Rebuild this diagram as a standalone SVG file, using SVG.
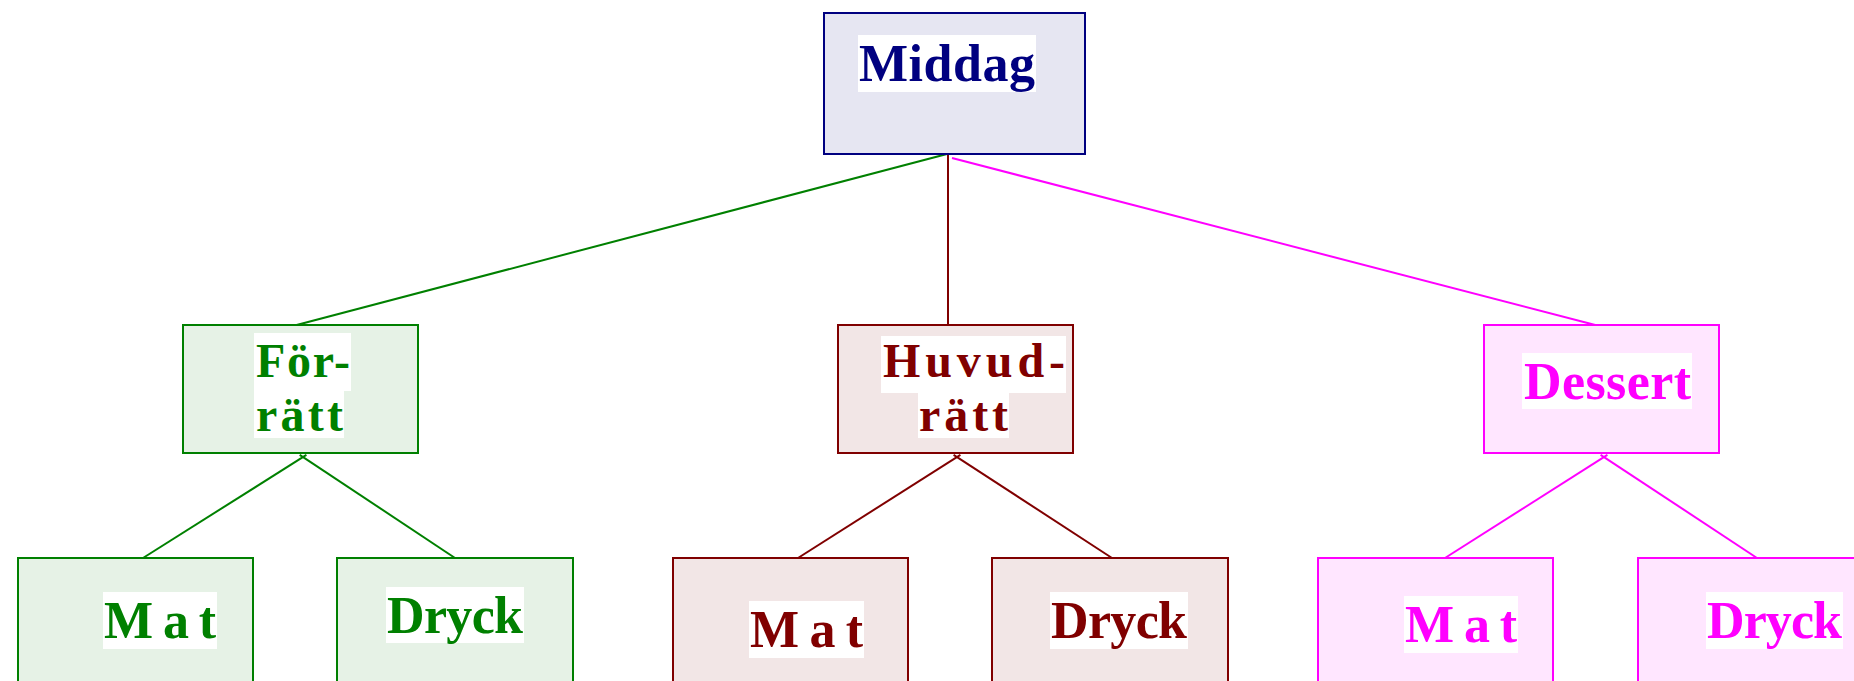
<svg xmlns="http://www.w3.org/2000/svg" width="1854" height="681" viewBox="0 0 1854 681">
<style>
text{font-family:"Liberation Serif","Times New Roman",serif;font-weight:bold;font-size:52px}
.two{font-size:48px}
.bg{fill:#ffffff}
.n{stroke-width:2}
.c{stroke-width:2;fill:none}
.navy{stroke:#000080}
.g{stroke:#008000}
.b{stroke:#800000}
.m{stroke:#ff00ff}
.tn{fill:#000080}.tg{fill:#008000}.tb{fill:#800000}.tm{fill:#ff00ff}
.fn{fill:#e6e6f2}.fg{fill:#e6f2e6}.fb{fill:#f2e6e6}.fm{fill:#ffe6ff}
</style>
<rect width="1854" height="681" fill="#ffffff"/>
<g id="connectors">
<line class="c g" x1="947" y1="154" x2="289" y2="327"/>
<line class="c b" x1="948" y1="154" x2="948" y2="325"/>
<line class="c m" x1="952" y1="158" x2="1603" y2="327"/>
<line class="c g" x1="143" y1="558" x2="306.4" y2="454.9"/>
<line class="c g" x1="455" y1="558" x2="299.7" y2="454.8"/>
<line class="c b" x1="798" y1="558" x2="960.4" y2="454.9"/>
<line class="c b" x1="1112" y1="558" x2="953.6" y2="454.8"/>
<line class="c m" x1="1445" y1="558" x2="1607.4" y2="454.9"/>
<line class="c m" x1="1757" y1="558" x2="1600.6" y2="454.8"/>
</g>
<g id="middag">
<rect class="n navy fn" x="824" y="13" width="261" height="141"/>
<rect class="bg" x="858" y="35" width="178" height="57"/>
<text class="tn" x="859" y="81" textLength="176" lengthAdjust="spacing">Middag</text>
</g>
<g id="forratt">
<rect class="n g fg" x="183" y="325" width="235" height="128"/>
<rect class="bg" x="254" y="333" width="97" height="58"/>
<rect class="bg" x="254" y="390" width="90" height="48"/>
<text class="tg two"><tspan x="256" y="377" textLength="94" lengthAdjust="spacing">För-</tspan><tspan x="256" y="431" textLength="87" lengthAdjust="spacing">rätt</tspan></text>
</g>
<g id="huvudratt">
<rect class="n b fb" x="838" y="325" width="235" height="128"/>
<rect class="bg" x="881" y="336" width="185" height="57"/>
<rect class="bg" x="918" y="392" width="91" height="46"/>
<text class="tb two"><tspan x="883" y="377" textLength="182" lengthAdjust="spacing">Huvud-</tspan><tspan x="919" y="431" textLength="89" lengthAdjust="spacing">rätt</tspan></text>
</g>
<g id="dessert">
<rect class="n m fm" x="1484" y="325" width="235" height="128"/>
<rect class="bg" x="1522" y="353" width="170" height="56"/>
<text class="tm" x="1524" y="399" textLength="167" lengthAdjust="spacing">Dessert</text>
</g>
<g id="forratt-mat">
<rect class="n g fg" x="18" y="558" width="235" height="140"/>
<rect class="bg" x="103" y="592" width="114" height="57"/>
<text class="tg" x="104" y="638" textLength="112" lengthAdjust="spacing">Mat</text>
</g>
<g id="forratt-dryck">
<rect class="n g fg" x="337" y="558" width="236" height="140"/>
<rect class="bg" x="386" y="587" width="138" height="56"/>
<text class="tg" x="387" y="633" textLength="136" lengthAdjust="spacing">Dryck</text>
</g>
<g id="huvudratt-mat">
<rect class="n b fb" x="673" y="558" width="235" height="140"/>
<rect class="bg" x="749" y="601" width="115" height="57"/>
<text class="tb" x="750" y="647" textLength="113" lengthAdjust="spacing">Mat</text>
</g>
<g id="huvudratt-dryck">
<rect class="n b fb" x="992" y="558" width="236" height="140"/>
<rect class="bg" x="1050" y="592" width="138" height="57"/>
<text class="tb" x="1051" y="638" textLength="136" lengthAdjust="spacing">Dryck</text>
</g>
<g id="dessert-mat">
<rect class="n m fm" x="1318" y="558" width="235" height="140"/>
<rect class="bg" x="1404" y="596" width="114" height="57"/>
<text class="tm" x="1405" y="642" textLength="112" lengthAdjust="spacing">Mat</text>
</g>
<g id="dessert-dryck">
<rect class="n m fm" x="1638" y="558" width="236" height="140"/>
<rect class="bg" x="1706" y="592" width="137" height="57"/>
<text class="tm" x="1707" y="638" textLength="135" lengthAdjust="spacing">Dryck</text>
</g>
</svg>
